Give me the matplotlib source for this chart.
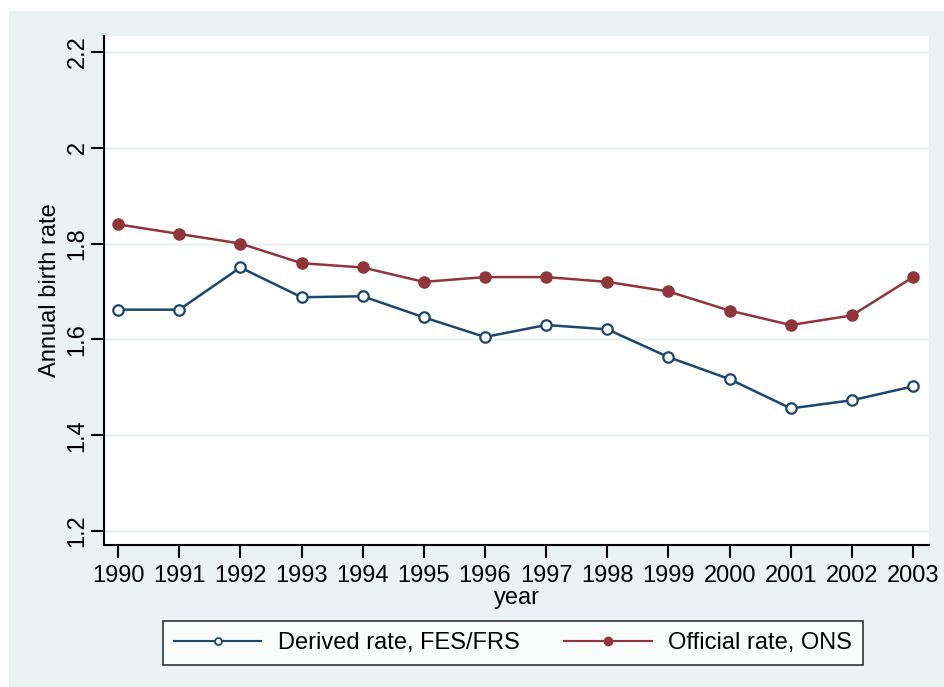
import matplotlib
matplotlib.use("Agg")
import matplotlib.pyplot as plt
from matplotlib.patches import Rectangle
from matplotlib.lines import Line2D

years = [1990, 1991, 1992, 1993, 1994, 1995, 1996, 1997, 1998, 1999, 2000, 2001, 2002, 2003]
derived = [1.662, 1.662, 1.75, 1.688, 1.69, 1.646, 1.605, 1.63, 1.621, 1.563, 1.517, 1.456, 1.473, 1.502]
official = [1.84, 1.82, 1.80, 1.759, 1.75, 1.72, 1.73, 1.73, 1.72, 1.70, 1.66, 1.63, 1.65, 1.73]
yticks = [1.2, 1.4, 1.6, 1.8, 2.0, 2.2]
yticklabels = ["1.2", "1.4", "1.6", "1.8", "2", "2.2"]
labels = ["Derived rate, FES/FRS", "Official rate, ONS"]

navy = "#1A476F"
maroon = "#90353B"
bg = "#EAF2F3"

plt.rcParams['font.family'] = ['Liberation Sans', 'DejaVu Sans']
FS = 17

W, H = 944, 687
fig = plt.figure(figsize=(W / 100, H / 100), dpi=100)
fig.patch.set_facecolor("white")
fig.add_artist(Rectangle((9 / W, 0), 1 - 9 / W, 1 - 11 / H, transform=fig.transFigure,
                         facecolor=bg, edgecolor="none", zorder=-10))

ax = fig.add_axes([104 / W, 1 - 545 / H, (929 - 104) / W, (545 - 36) / H])
ax.set_facecolor("white")

ax.plot(years, derived, color=navy, lw=1.8, marker="o", ms=7.5, mfc="white", mec=navy, mew=1.6,
        label=labels[0], zorder=3)
ax.plot(years, official, color=maroon, lw=1.8, marker="o", ms=8, mfc=maroon, mec=maroon,
        label=labels[1], zorder=3)

ax.set_xlim(1989.77, 2003.26)
ax.set_ylim(1.171, 2.233)
ax.set_xticks(years)
ax.set_xticklabels([str(y) for y in years], fontsize=FS)
ax.set_yticks(yticks)
ax.set_yticklabels(yticklabels, fontsize=FS, rotation=90, va="center")
ax.yaxis.grid(True, color=bg, lw=1.8)
ax.set_axisbelow(True)

for s in ["top", "right"]:
    ax.spines[s].set_visible(False)
for s in ["left", "bottom"]:
    ax.spines[s].set_color("black")
    ax.spines[s].set_linewidth(1.5)
ax.tick_params(axis="both", direction="out", length=9.5, width=1.5, color="black")
ax.tick_params(axis="x", pad=5)
ax.tick_params(axis="y", pad=1.5)

ax.set_xlabel("year", fontsize=FS, labelpad=0)
ax.set_ylabel("Annual birth rate", fontsize=FS, labelpad=4)

handles = [Line2D([], [], color=navy, lw=1.5, marker="o", ms=5, mfc="white", mec=navy, mew=1.3),
           Line2D([], [], color=maroon, lw=1.5, marker="o", ms=6, mfc=maroon, mec=maroon)]
leg = fig.legend(handles, labels, loc="center", bbox_to_anchor=(513 / W, 1 - 643 / H), ncol=2,
                 fontsize=FS, frameon=True, fancybox=False, edgecolor="black",
                 handlelength=3.7, columnspacing=1.9, handletextpad=0.7, borderpad=0.45,
                 borderaxespad=0)
leg.get_frame().set_linewidth(1.2)

fig.savefig("out.png", dpi=100, facecolor=fig.get_facecolor())
